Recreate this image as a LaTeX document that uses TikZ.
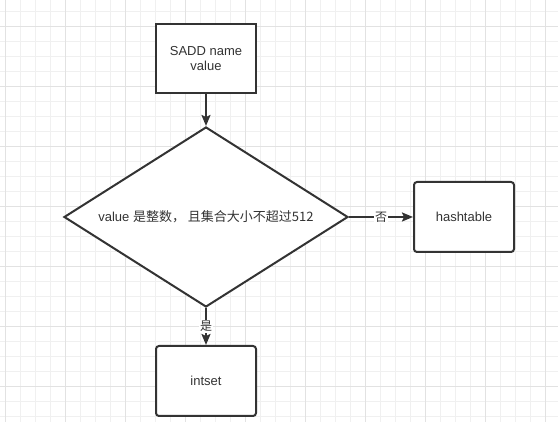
\documentclass[tikz,border=0pt]{standalone}
\usepackage{fontspec}
\setmainfont{Liberation Sans}
\newfontfamily\cjk{Noto Sans CJK SC}
\usepackage{tikz}
\usetikzlibrary{arrows.meta,positioning,shapes.geometric}
\definecolor{ink}{HTML}{333333}
\definecolor{gridminor}{HTML}{F0F0F0}
\definecolor{gridmajor}{HTML}{E2E2E2}
\tikzset{
  >={Stealth[length=11pt,width=9pt,inset=2pt]},
  every node/.style={font=\fontsize{13}{15}\selectfont,text=ink},
  cmdbox/.style={draw=ink,line width=2pt,fill=white,align=center,minimum width=100pt,minimum height=69pt,inner sep=0pt},
  store/.style={cmdbox,rounded corners=3pt,minimum height=70pt},
  decision/.style={diamond,draw=ink,line width=2pt,fill=white,aspect=1.58,minimum width=284pt,minimum height=180pt,inner sep=0pt},
  arrow/.style={->,line width=2pt,draw=ink},
  edgelabel/.style={fill=white,inner sep=1pt,font=\cjk\fontsize{12}{14}\selectfont},
  minorline/.style={draw=gridminor,line width=0.8pt},
  majorline/.style={draw=gridmajor,line width=0.8pt}
}
\begin{document}
\begin{tikzpicture}[x=1pt,y=-1pt]
  \useasboundingbox (0,0) rectangle (558,422);
  % grid paper
  \fill[white] (0,0) rectangle (558,422);
  \foreach \x in {5,20,...,545} \draw[minorline] (\x,0) -- (\x,422);
  \foreach \y in {11,26,...,416} \draw[minorline] (0,\y) -- (558,\y);
  \foreach \x in {5,65,...,545} \draw[majorline] (\x,0) -- (\x,422);
  \foreach \y in {26,86,...,386} \draw[majorline] (0,\y) -- (558,\y);

  \node[cmdbox] (sadd) at (206,58.5) {SADD name\\value};
  \node[decision,below=32pt of sadd] (check) {value \cjk{是整数，} \cjk{且集合大小不超过}512};
  \node[store,right=64pt of check] (hash) {hashtable};
  \node[store,below=37pt of check] (intset) {intset};

  \draw[arrow] (sadd) -- (check);
  \draw[arrow] (check) -- node[edgelabel] {否} (hash);
  \draw[arrow] (check) -- node[edgelabel] {是} (intset);
\end{tikzpicture}
\end{document}
